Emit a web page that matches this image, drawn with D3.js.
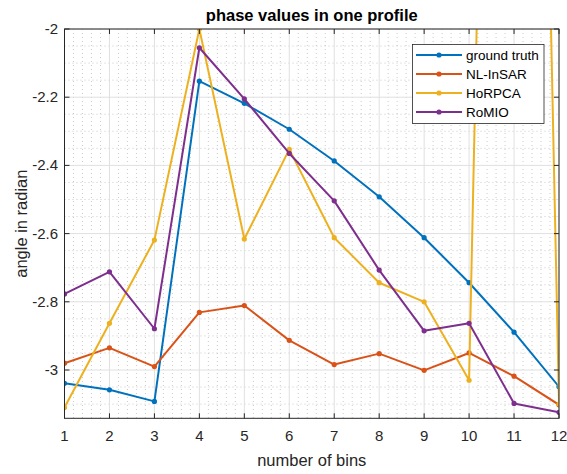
<!DOCTYPE html>
<html>
<head>
<meta charset="utf-8">
<script src="https://cdn.jsdelivr.net/npm/d3@7"></script>
<style>
  html, body { margin: 0; padding: 0; background: #fff; }
  svg { display: block; font-family: "Liberation Sans", Arial, Helvetica, sans-serif; }
</style>
</head>
<body>
<svg id="chart" width="567" height="474"></svg>
<script>
// Bin indices along the profile
const bins = [1, 2, 3, 4, 5, 6, 7, 8, 9, 10, 11, 12];

// Phase estimates (radians) per method
const groundTruth = [-3.039, -3.058, -3.092, -2.153, -2.218, -2.294, -2.387, -2.492, -2.612, -2.744, -2.889, -3.049];
const nlInsar     = [-2.980, -2.935, -2.990, -2.831, -2.811, -2.913, -2.984, -2.952, -3.001, -2.950, -3.018, -3.102];
const horpca      = [-3.110, -2.863, -2.619, -2.000, -2.616, -2.353, -2.612, -2.744, -2.800, -3.030, 3.100, -3.100];
const romio       = [-2.777, -2.712, -2.879, -2.055, -2.205, -2.365, -2.504, -2.707, -2.885, -2.863, -3.098, -3.124];

const seriesNames = ["ground truth", "NL-InSAR", "HoRPCA", "RoMIO"];
const seriesColors = ["#0072BD", "#D95319", "#EDB120", "#7E2F8E"];
const seriesValues = [groundTruth, nlInsar, horpca, romio];

const xTicks = [1, 2, 3, 4, 5, 6, 7, 8, 9, 10, 11, 12];
const yTicks = [-3, -2.8, -2.6, -2.4, -2.2, -2];
const yTickLabels = ["-3", "-2.8", "-2.6", "-2.4", "-2.2", "-2"];

const svg = d3.select("#chart");
const plotL = 64.5, plotR = 559, plotT = 29, plotB = 418.3;
const textColor = "#262626";

const x = d3.scaleLinear().domain([1, 12]).range([plotL, plotR]);
const y = d3.scaleLinear().domain([-Math.PI, -2]).range([plotB, plotT]);

svg.append("defs").append("clipPath").attr("id", "plotClip")
  .append("rect").attr("x", plotL).attr("y", plotT)
  .attr("width", plotR - plotL).attr("height", plotB - plotT);

// Minor grid (dotted)
const minorX = d3.range(1, 12.001, 0.2).filter(v => Math.abs(v - Math.round(v)) > 1e-6);
const minorY = d3.range(-3.1, -2.0, 0.05).filter(v => Math.abs(v * 5 - Math.round(v * 5)) > 1e-6);
const grid = svg.append("g");
grid.selectAll("line.mx").data(minorX).join("line")
  .attr("x1", d => x(d)).attr("x2", d => x(d)).attr("y1", plotT).attr("y2", plotB)
  .attr("stroke", "#bdbdbd").attr("stroke-width", 0.8).attr("stroke-dasharray", "1 3");
grid.selectAll("line.my").data(minorY).join("line")
  .attr("y1", d => y(d)).attr("y2", d => y(d)).attr("x1", plotL).attr("x2", plotR)
  .attr("stroke", "#bdbdbd").attr("stroke-width", 0.8).attr("stroke-dasharray", "1 3");

// Major grid
grid.selectAll("line.gx").data(xTicks).join("line")
  .attr("x1", d => x(d)).attr("x2", d => x(d)).attr("y1", plotT).attr("y2", plotB)
  .attr("stroke", "#e0e0e0").attr("stroke-width", 1);
grid.selectAll("line.gy").data(yTicks).join("line")
  .attr("y1", d => y(d)).attr("y2", d => y(d)).attr("x1", plotL).attr("x2", plotR)
  .attr("stroke", "#e0e0e0").attr("stroke-width", 1);

// Data lines
const plot = svg.append("g").attr("clip-path", "url(#plotClip)");
const line = d3.line().x((d, i) => x(bins[i])).y(d => y(d));
seriesValues.forEach((vals, k) => {
  plot.append("path").datum(vals)
    .attr("d", line).attr("fill", "none")
    .attr("stroke", seriesColors[k]).attr("stroke-width", 2)
    .attr("stroke-linejoin", "round");
  plot.selectAll(null).data(vals).join("circle")
    .attr("cx", (d, i) => x(bins[i])).attr("cy", d => y(d))
    .attr("r", 2.6).attr("fill", seriesColors[k]);
});

// Axes box with inward ticks on all sides
const axes = svg.append("g").attr("stroke", textColor).attr("stroke-width", 1);
axes.append("rect").attr("x", plotL).attr("y", plotT)
  .attr("width", plotR - plotL).attr("height", plotB - plotT).attr("fill", "none");
const tl = 5;
xTicks.forEach(t => {
  axes.append("line").attr("x1", x(t)).attr("x2", x(t)).attr("y1", plotB).attr("y2", plotB - tl);
  axes.append("line").attr("x1", x(t)).attr("x2", x(t)).attr("y1", plotT).attr("y2", plotT + tl);
});
yTicks.forEach(t => {
  axes.append("line").attr("y1", y(t)).attr("y2", y(t)).attr("x1", plotL).attr("x2", plotL + tl);
  axes.append("line").attr("y1", y(t)).attr("y2", y(t)).attr("x1", plotR).attr("x2", plotR - tl);
});

// Tick labels
svg.append("g").selectAll("text").data(xTicks).join("text")
  .attr("x", d => x(d)).attr("y", 441)
  .attr("text-anchor", "middle").attr("font-size", 15).attr("fill", textColor)
  .text(d => String(d));
svg.append("g").selectAll("text").data(yTicks).join("text")
  .attr("x", 58).attr("y", d => y(d) + 5)
  .attr("text-anchor", "end").attr("font-size", 15).attr("fill", textColor)
  .text((d, i) => yTickLabels[i]);

// Axis labels and title
svg.append("text").attr("x", (plotL + plotR) / 2).attr("y", 466)
  .attr("text-anchor", "middle").attr("font-size", 16.5).attr("fill", textColor)
  .text("number of bins");
svg.append("text")
  .attr("transform", `translate(27,${(plotT + plotB) / 2}) rotate(-90)`)
  .attr("text-anchor", "middle").attr("font-size", 16.5).attr("fill", textColor)
  .text("angle in radian");
svg.append("text").attr("x", (plotL + plotR) / 2).attr("y", 21)
  .attr("text-anchor", "middle").attr("font-size", 16.5).attr("font-weight", "bold")
  .attr("fill", "#000").text("phase values in one profile");

// Legend
const lg = svg.append("g");
lg.append("rect").attr("x", 412.5).attr("y", 44.5).attr("width", 131.5).attr("height", 79)
  .attr("fill", "#fff").attr("stroke", textColor).attr("stroke-width", 0.8);
seriesNames.forEach((name, k) => {
  const yy = 55 + k * 19;
  lg.append("line").attr("x1", 416).attr("x2", 462).attr("y1", yy).attr("y2", yy)
    .attr("stroke", seriesColors[k]).attr("stroke-width", 2);
  lg.append("circle").attr("cx", 439).attr("cy", yy).attr("r", 2.6).attr("fill", seriesColors[k]);
  lg.append("text").attr("x", 466).attr("y", yy + 5).attr("font-size", 13.5)
    .attr("fill", "#000").text(name);
});
</script>
</body>
</html>
